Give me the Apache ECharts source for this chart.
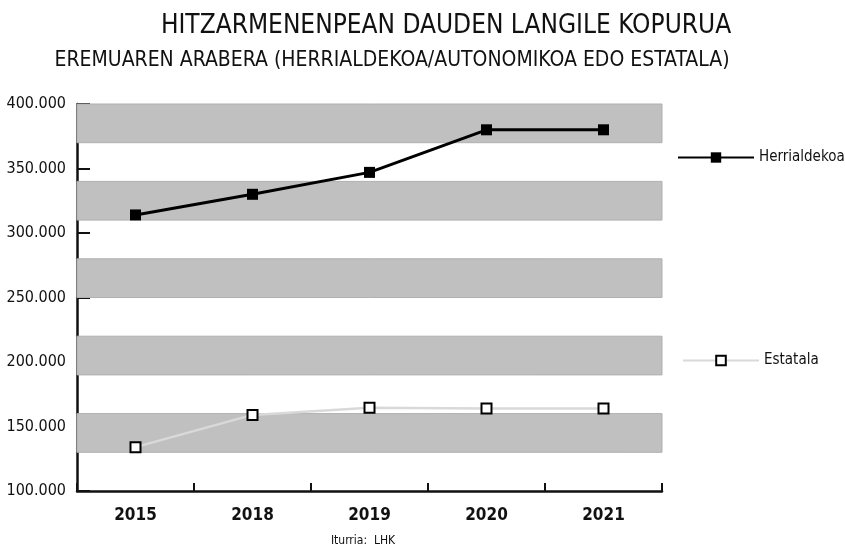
<!DOCTYPE html>
<html>
<head>
<meta charset="utf-8">
<script src="https://cdn.jsdelivr.net/npm/echarts@6/dist/echarts.min.js"></script>
<style>
  html, body { margin: 0; padding: 0; background: #fff; }
  #chart { width: 845px; height: 546px; }
</style>
</head>
<body>
<div id="chart"></div>
<script>
var years = ['2015', '2018', '2019', '2020', '2021'];
var herrialdekoa = [314000, 330000, 347000, 380000, 380000];
var estatala = [134000, 159000, 164500, 164000, 164000];
// gray bands on the plot, in axis values
var bands = [[370000, 400000], [310000, 340000], [250000, 280000], [190000, 220000], [130000, 160000]];

var font = '"DejaVu Sans Condensed", "Liberation Sans Narrow", sans-serif';
var chart = echarts.init(document.getElementById('chart'));

function fmt(v) {
  return String(v).replace(/\B(?=(\d{3})+(?!\d))/g, '.');
}

var option = {
  animation: false,
  backgroundColor: '#fff',
  title: [
    {
      text: 'HITZARMENENPEAN DAUDEN LANGILE KOPURUA',
      left: 441, top: 8, textAlign: 'center',
      textStyle: { fontFamily: font, fontSize: 26, fontWeight: 'normal', color: '#111' }
    },
    {
      text: 'EREMUAREN ARABERA (HERRIALDEKOA/AUTONOMIKOA EDO ESTATALA)',
      left: 387, top: 45, textAlign: 'center',
      textStyle: { fontFamily: font, fontSize: 21, fontWeight: 'normal', color: '#111' }
    },
    {
      text: 'Iturria:  LHK',
      left: 358, top: 530, textAlign: 'center',
      textStyle: { fontFamily: font, fontSize: 12, fontWeight: 'normal', color: '#111' }
    }
  ],
  legend: [
    {
      data: ['Herrialdekoa'],
      left: 672, top: 145,
      itemWidth: 76, itemHeight: 13, itemGap: 10,
      textStyle: { fontFamily: font, fontSize: 15, color: '#111' }
    },
    {
      data: ['Estatala'],
      left: 677, top: 348,
      itemWidth: 76, itemHeight: 12, itemGap: 10,
      textStyle: { fontFamily: font, fontSize: 15, color: '#111' }
    }
  ],
  grid: { left: 77, right: 183, top: 104, bottom: 55, containLabel: false },
  xAxis: {
    type: 'category',
    data: years,
    boundaryGap: true,
    axisLine: { lineStyle: { color: '#111', width: 2.5 } },
    axisTick: { show: true, inside: true, length: 8, interval: 0, lineStyle: { color: '#111', width: 2 } },
    axisLabel: { margin: 16, fontFamily: font, fontSize: 17, fontWeight: 'bold', color: '#111' },
    splitLine: { show: false }
  },
  yAxis: {
    type: 'value',
    min: 100000, max: 400000, interval: 50000,
    axisLine: { show: true, lineStyle: { color: '#111', width: 2.5 } },
    axisTick: { show: true, inside: true, length: 13, lineStyle: { color: '#111', width: 2 } },
    axisLabel: { margin: 11, fontFamily: font, fontSize: 16, color: '#111', formatter: fmt },
    splitLine: { show: false }
  },
  series: [
    {
      name: 'Herrialdekoa',
      type: 'line',
      data: herrialdekoa,
      symbol: 'rect', symbolSize: 11,
      lineStyle: { color: '#000', width: 3 },
      itemStyle: { color: '#000', borderColor: '#000', borderWidth: 0 },
      z: 5,
      markArea: {
        silent: true,
        itemStyle: { color: '#c0c0c0', borderColor: '#b0b0b0', borderWidth: 1 },
        data: bands.map(function (b) { return [{ yAxis: b[0] }, { yAxis: b[1] }]; })
      }
    },
    {
      name: 'Estatala',
      type: 'line',
      data: estatala,
      symbol: 'rect', symbolSize: 10,
      lineStyle: { color: '#d9d9d9', width: 2.5 },
      itemStyle: { color: '#fff', borderColor: '#000', borderWidth: 2 },
      z: 5
    }
  ]
};
chart.setOption(option);
</script>
</body>
</html>
